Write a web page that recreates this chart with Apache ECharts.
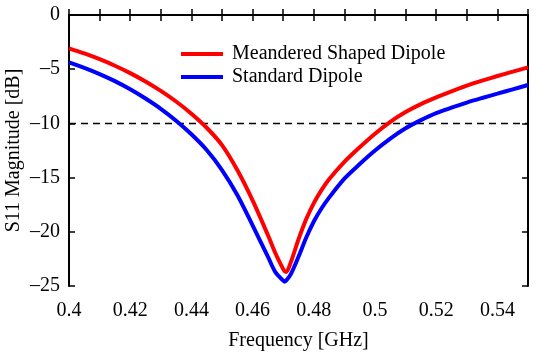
<!DOCTYPE html>
<html>
<head>
<meta charset="utf-8">
<script src="https://cdn.jsdelivr.net/npm/echarts@6/dist/echarts.min.js"></script>
<style>html,body{margin:0;padding:0;background:#fff}#c{width:550px;height:360px}</style>
</head>
<body>
<div id="c"></div>
<script>
var freq = [0.400,0.405,0.410,0.415,0.420,0.425,0.430,0.435,0.440,0.445,0.450,0.455,0.460,0.465,0.4675,0.470,0.4705,0.471,0.4725,0.475,0.4775,0.480,0.4825,0.485,0.490,0.495,0.500,0.505,0.510,0.515,0.520,0.525,0.530,0.535,0.540,0.545,0.550];
var meandered = [-3.07,-3.55,-4.08,-4.68,-5.36,-6.13,-7.0,-7.98,-9.1,-10.4,-12.0,-14.3,-17.1,-20.3,-22.0,-23.45,-23.65,-23.7,-22.8,-20.7,-18.85,-17.35,-16.15,-15.15,-13.55,-12.2,-10.95,-9.85,-8.95,-8.22,-7.6,-7.04,-6.52,-6.06,-5.63,-5.23,-4.83];
var standard = [-4.37,-4.88,-5.45,-6.1,-6.85,-7.7,-8.65,-9.75,-11.0,-12.45,-14.3,-16.6,-19.4,-22.3,-23.75,-24.5,-24.6,-24.5,-23.9,-22.3,-20.55,-19.05,-17.85,-16.85,-15.1,-13.75,-12.5,-11.4,-10.45,-9.7,-9.05,-8.55,-8.08,-7.66,-7.26,-6.86,-6.46];
var thresholdX = [0.4, 0.55];
var thresholdY = [-10, -10];
var seriesNames = ['Meandered Shaped Dipole', 'Standard Dipole'];
var xLabel = 'Frequency [GHz]';
var yLabel = 'S11 Magnitude [dB]';

function pairs(xs, ys){ return xs.map(function(x,i){ return [x, ys[i]]; }); }
var FONT = 'Liberation Serif';
var minus = function(s){ return String(s).replace('-', '\u2013'); };

var chart = echarts.init(document.getElementById('c'), null, {renderer:'canvas'});
var axisLine = {show:true, lineStyle:{color:'#000', width:2}};
var tick = {inside:true, length:6, lineStyle:{color:'#000', width:1.5}};
chart.setOption({
  animation:false,
  backgroundColor:'#fff',
  grid:{left:69, right:22, top:15, bottom:74, containLabel:false, outerBoundsMode:'none'},
  legend:{
    data:seriesNames, left:181, top:44, orient:'vertical', itemGap:3, padding:0,
    itemWidth:42, itemHeight:4, icon:'rect',
    textStyle:{fontFamily:FONT, fontSize:20, color:'#000', padding:[0,0,0,4]}
  },
  xAxis:[{
    type:'value', min:0.4, max:0.55, interval:0.01, position:'bottom',
    name:xLabel, nameLocation:'middle', nameGap:45, nameMoveOverlap:false,
    nameTextStyle:{fontFamily:FONT, fontSize:20, color:'#000'},
    axisLine:axisLine, axisTick:tick, splitLine:{show:false},
    axisLabel:{margin:15, fontFamily:FONT, fontSize:20, color:'#000',
      formatter:function(v){ return Math.round(v*100)%2===0 ? String(+v.toFixed(2)) : ''; }}
  },{
    type:'value', min:0.4, max:0.55, interval:0.01, position:'top',
    axisLine:axisLine, axisTick:tick, axisLabel:{show:false}, splitLine:{show:false}
  }],
  yAxis:[{
    type:'value', min:-25, max:0, interval:5, position:'left',
    name:yLabel, nameLocation:'middle', nameGap:45, nameRotate:90, nameMoveOverlap:false,
    nameTextStyle:{fontFamily:FONT, fontSize:20, color:'#000'},
    axisLine:axisLine, axisTick:tick, splitLine:{show:false},
    axisLabel:{margin:9, fontFamily:FONT, fontSize:20, color:'#000', formatter:minus}
  },{
    type:'value', min:-25, max:0, interval:5, position:'right',
    axisLine:axisLine, axisTick:tick, axisLabel:{show:false}, splitLine:{show:false}
  }],
  series:[{
    name:'threshold', type:'line', data:pairs(thresholdX, thresholdY), symbol:'none', silent:true,
    lineStyle:{color:'#000', width:1.5, type:[7,5]}, z:1
  },{
    name:seriesNames[0], type:'line', data:pairs(freq, meandered), symbol:'none', smooth:0.3,
    color:'#ff0000', lineStyle:{color:'#ff0000', width:4}, z:3
  },{
    name:seriesNames[1], type:'line', data:pairs(freq, standard), symbol:'none', smooth:0.3,
    color:'#0000ff', lineStyle:{color:'#0000ff', width:4}, z:2
  }]
});
</script>
</body>
</html>
